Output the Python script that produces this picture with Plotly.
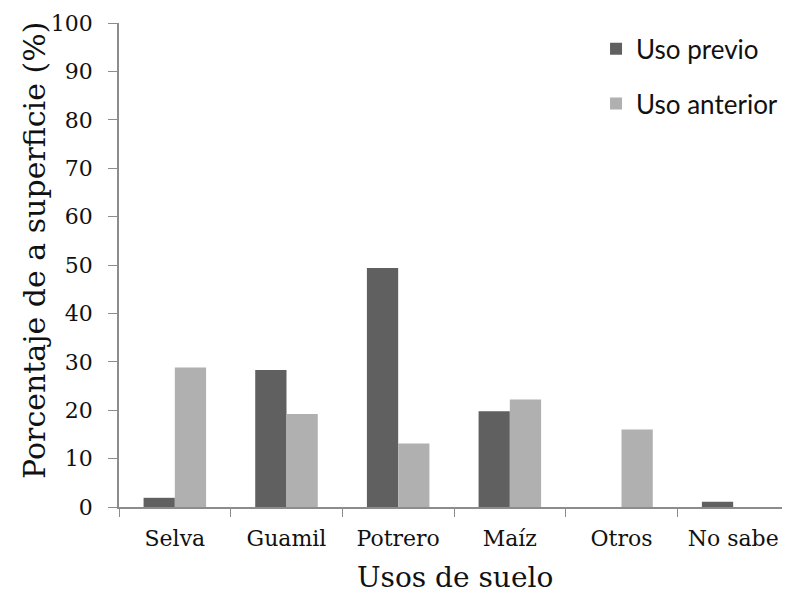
import plotly.graph_objects as go

categories = ["Selva", "Guamil", "Potrero", "Maíz", "Otros", "No sabe"]
uso_previo = [1.9, 28.3, 49.4, 19.8, 0, 1.1]
uso_anterior = [28.8, 19.2, 13.1, 22.2, 16.0, 0]
y_ticks = list(range(0, 101, 10))

fig = go.Figure()
fig.add_trace(go.Bar(x=categories, y=uso_previo, name="Uso previo",
                     marker=dict(color="#606060", line=dict(width=0)), legendgroup="a"))
fig.add_trace(go.Bar(x=categories, y=uso_anterior, name="Uso anterior",
                     marker=dict(color="#b0b0b0", line=dict(width=0)), legendgroup="b"))

serif = "DejaVu Serif, Liberation Serif, serif"
fig.update_layout(
    width=782, height=587,
    margin=dict(l=111, r=1, t=15, b=88),
    paper_bgcolor="white", plot_bgcolor="white",
    barmode="group", bargap=0.44, bargroupgap=0,
    font=dict(family=serif, color="#111111"),
    legend=dict(x=0.712, y=0.995, xanchor="left", yanchor="top",
                font=dict(family="Lato, Open Sans, sans-serif", size=26, color="#111111"),
                tracegroupgap=18, bgcolor="rgba(0,0,0,0)"),
    xaxis=dict(
        type="category", tickson="boundaries", ticks="outside", ticklen=8,
        tickcolor="#8c8c8c", showline=True, linecolor="#8c8c8c", linewidth=1.5,
        tickfont=dict(size=22, family=serif, color="#111111"),
        ticklabelstandoff=11,
        showgrid=False, automargin=False,
    ),
    yaxis=dict(
        range=[0, 100], tickvals=y_ticks, ticks="outside", ticklen=9,
        tickcolor="#8c8c8c", showline=True, linecolor="#8c8c8c", linewidth=1.5,
        tickfont=dict(size=22, family=serif, color="#111111"),
        ticklabelstandoff=11,
        showgrid=False, zeroline=False, automargin=False,
    ),
    annotations=[
        dict(text="Porcentaje de a superficie (%)", xref="paper", yref="paper",
             x=-0.1254, y=0.531, xanchor="center", yanchor="middle", textangle=-90,
             showarrow=False, font=dict(size=30, family=serif, color="#111111")),
        dict(text="Usos de suelo", xref="paper", yref="paper",
             x=0.5015, y=-0.145, xanchor="center", yanchor="middle",
             showarrow=False, font=dict(size=28, family=serif, color="#111111")),
    ],
)

fig.write_html("out.html")
